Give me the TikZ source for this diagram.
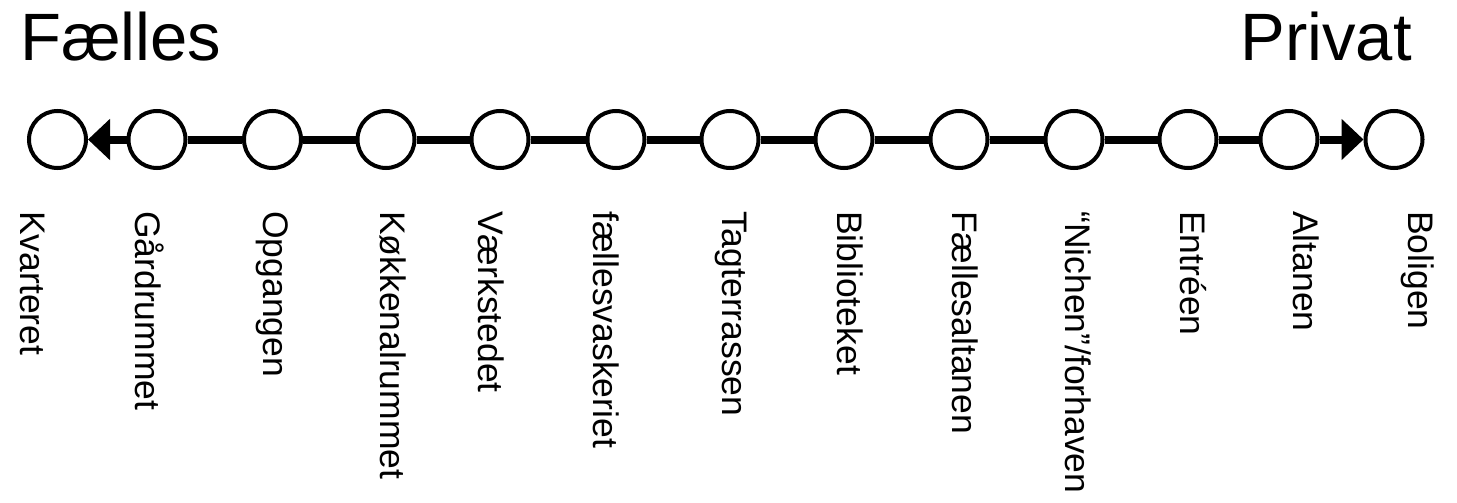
\documentclass[tikz,border=0pt]{standalone}
\usepackage{fontspec}
\setmainfont{Liberation Sans}
\usetikzlibrary{arrows.meta}
\begin{document}
\begin{tikzpicture}[x=1pt,y=-1pt,
  spot/.style={circle,draw,line width=4pt,fill=white,minimum size=57pt,inner sep=0pt},
  link/.style={line width=8pt},
  arr/.style={line width=8pt,-{Triangle[length=22pt,width=40pt]}},
  lbl/.style={rotate=-90,anchor=base west,inner sep=0pt,font=\fontsize{35.5}{42}\selectfont},
  ttl/.style={inner sep=0pt,font=\fontsize{67}{80}\selectfont}]
\useasboundingbox (0,0) rectangle (1457,503);
\node[ttl,anchor=base west] (tf) at (20,61) {Fælles};
\node[ttl,anchor=base east] (tp) at (1412,61) {Privat};
\foreach \i/\x in {1/57.5,2/157,3/272.5,4/386,5/500,6/616,7/730,8/844,9/959,10/1074,11/1188,12/1289,13/1394}
  \node[spot] (c\i) at (\x,139.5) {};
\draw[arr] (c2) -- (c1);
\foreach \a/\b in {2/3,3/4,4/5,5/6,6/7,7/8,8/9,9/10,10/11,11/12}
  \draw[link] (c\a) -- (c\b);
\draw[arr] (c12) -- (c13);
\node[lbl] (l1) at (20,211) {Kvarteret};
\node[lbl] (l2) at (135,211) {Gårdrummet};
\node[lbl] (l3) at (263,211) {Opgangen};
\node[lbl] (l4) at (380,211) {Køkkenalrummet};
\node[lbl] (l5) at (478,211) {Værkstedet};
\node[lbl] (l6) at (593,211) {fællesvaskeriet};
\node[lbl] (l7) at (722,211) {Tagterrassen};
\node[lbl] (l8) at (837,211) {Biblioteket};
\node[lbl] (l9) at (952,211) {Fællesaltanen};
\node[lbl] (l10) at (1065,211) {“Nichen”/forhaven};
\node[lbl] (l11) at (1180,211) {Entréen};
\node[lbl] (l12) at (1293,211) {Altanen};
\node[lbl] (l13) at (1408,211) {Boligen};
\end{tikzpicture}
\end{document}
